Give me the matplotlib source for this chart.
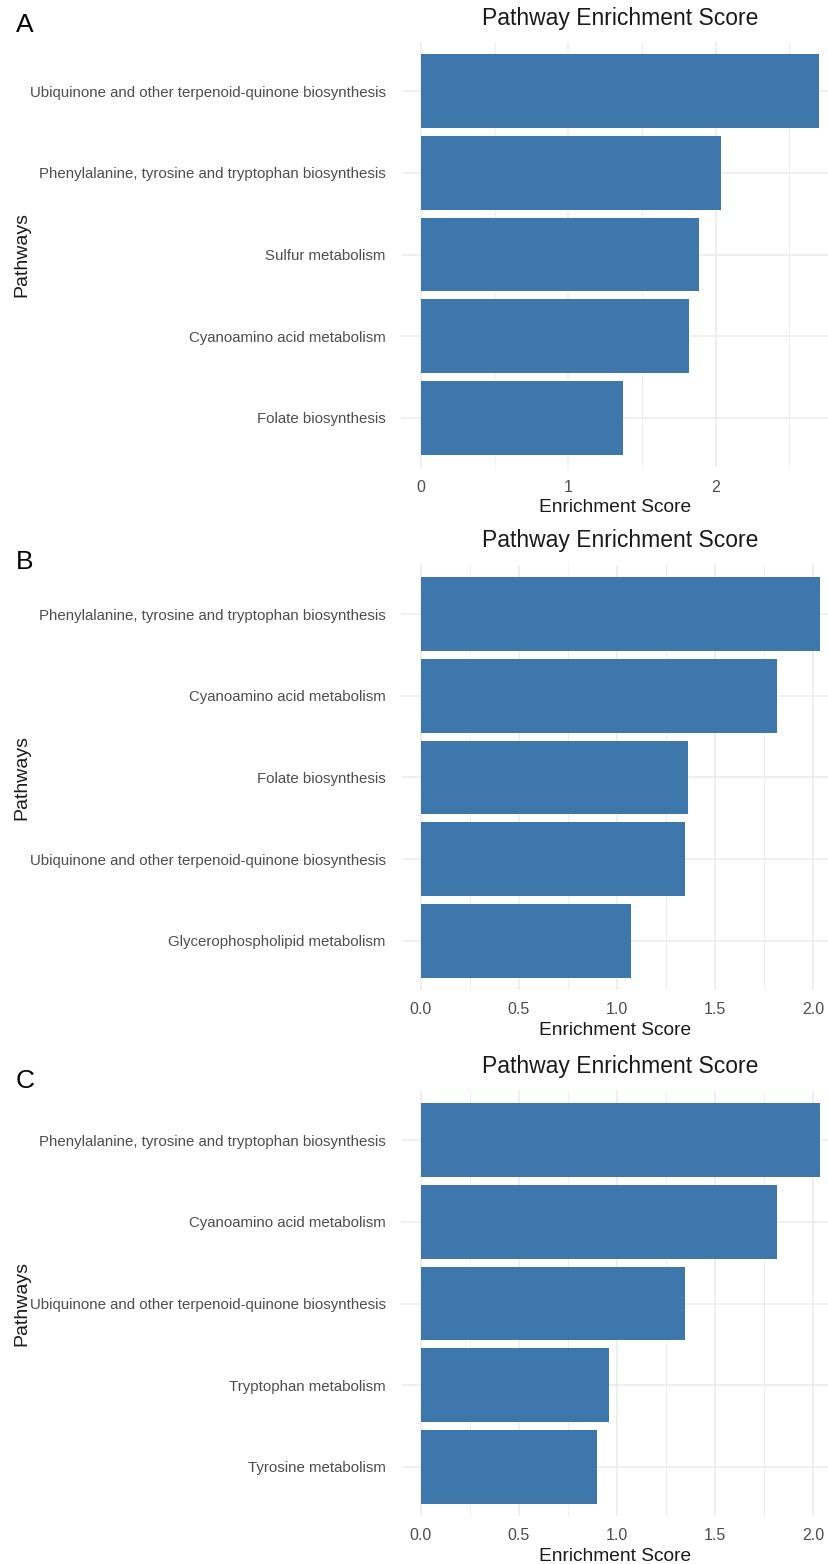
import matplotlib
matplotlib.use("Agg")
import matplotlib.pyplot as plt
from matplotlib.ticker import MultipleLocator

plt.rcParams['font.family'] = ['Liberation Sans', 'DejaVu Sans']

# ---- data ----
pathways_a = ["Ubiquinone and other terpenoid-quinone biosynthesis",
              "Phenylalanine, tyrosine and tryptophan biosynthesis",
              "Sulfur metabolism",
              "Cyanoamino acid metabolism",
              "Folate biosynthesis"]
scores_a = [2.70, 2.04, 1.89, 1.82, 1.37]

pathways_b = ["Phenylalanine, tyrosine and tryptophan biosynthesis",
              "Cyanoamino acid metabolism",
              "Folate biosynthesis",
              "Ubiquinone and other terpenoid-quinone biosynthesis",
              "Glycerophospholipid metabolism"]
scores_b = [2.035, 1.815, 1.36, 1.345, 1.07]

pathways_c = ["Phenylalanine, tyrosine and tryptophan biosynthesis",
              "Cyanoamino acid metabolism",
              "Ubiquinone and other terpenoid-quinone biosynthesis",
              "Tryptophan metabolism",
              "Tyrosine metabolism"]
scores_c = [2.035, 1.815, 1.345, 0.96, 0.90]

panel_labels = ["A", "B", "C"]
title = "Pathway Enrichment Score"
xlabel = "Enrichment Score"
ylabel = "Pathways"

W, H = 829, 1564
fig = plt.figure(figsize=(W / 100, H / 100), dpi=100)

BAR = "#3D77AC"
GRID = "#EBEBEB"
TXT = "#4D4D4D"

# panel layout in pixels: (left, right, top, bottom), xlim, major step
panels = [
    (pathways_a, scores_a, (401, 829, 42, 467), (-0.135, 2.770), 1.0, "{:.0f}", 25, panel_labels[0]),
    (pathways_b, scores_b, (401, 829, 565, 990), (-0.102, 2.082), 0.5, "{:.1f}", 562, panel_labels[1]),
    (pathways_c, scores_c, (401, 829, 1091, 1516), (-0.102, 2.082), 0.5, "{:.1f}", 1081, panel_labels[2]),
]

for names, vals, (l, r, t, b), xlim, step, fmt, laby, lab in panels:
    ax = fig.add_axes([l / W, 1 - b / H, (r - l) / W, (b - t) / H])
    n = len(names)
    ypos = list(range(n))[::-1]
    ax.set_xlim(*xlim)
    ax.set_ylim(-0.6, n - 1 + 0.6)
    ax.xaxis.set_major_locator(MultipleLocator(step))
    ax.xaxis.set_minor_locator(MultipleLocator(step / 2))
    ax.grid(which="major", color=GRID, lw=1.1, zorder=0)
    ax.grid(which="minor", axis="x", color=GRID, lw=0.6, zorder=0)
    ax.barh(ypos, vals, height=0.9, color=BAR, zorder=2)
    ax.set_yticks(ypos)
    ax.set_yticklabels(names)
    ax.set_xticklabels([fmt.format(v) for v in ax.get_xticks()])
    ax.tick_params(axis="y", length=0, pad=11, labelsize=10.8, labelcolor=TXT)
    ax.tick_params(axis="x", which="both", length=0, pad=9, labelsize=11.5, labelcolor=TXT)
    for s in ax.spines.values():
        s.set_visible(False)
    ax.set_xlabel(xlabel, fontsize=13.8, color="#1A1A1A", labelpad=3)
    fig.text(620 / W, 1 - (t - 24) / H, title, ha="center", va="center",
             fontsize=16.5, color="#1A1A1A")
    fig.text(16 / W, 1 - laby / H, lab, ha="left", va="center", fontsize=19, color="black")
    fig.text(22 / W, 1 - ((t + b) / 2) / H, ylabel, rotation=90, ha="center",
             va="center", fontsize=14, color="#1A1A1A")

fig.savefig("out.png", dpi=100, facecolor="white")
